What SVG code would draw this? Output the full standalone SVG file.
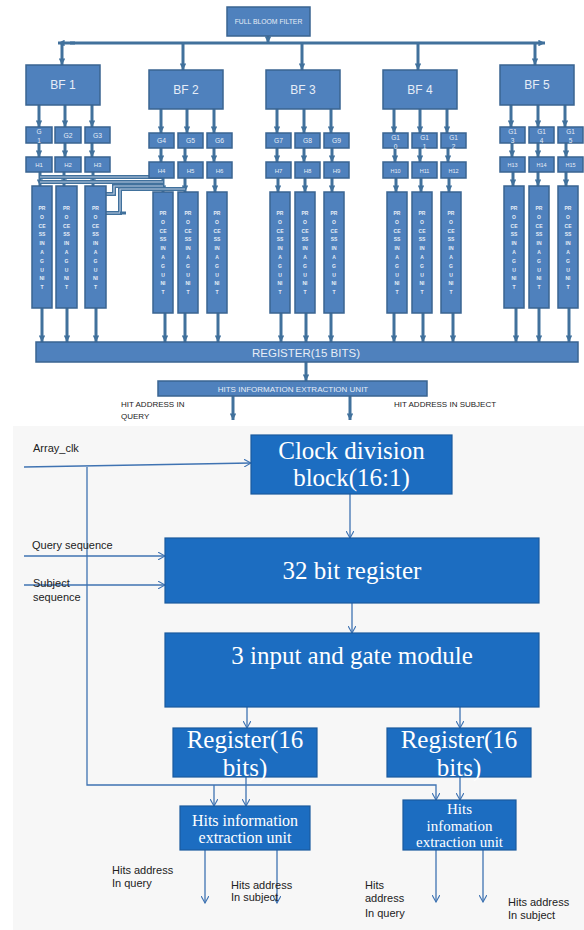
<svg xmlns="http://www.w3.org/2000/svg" width="584" height="930" viewBox="0 0 584 930">
<style>
.tb{fill:#4f81bd;stroke:#3a6491;stroke-width:1.5}
.tt{fill:#e6edf7;font-family:"Liberation Sans",Arial,sans-serif;text-anchor:middle}
.th{stroke:#41719c;stroke-width:3;fill:none}
.dbl{stroke:#41719c;stroke-width:4;fill:none}
.dbli{stroke:#b9cbe2;stroke-width:1.2;fill:none}
.pu{fill:#e6edf7;font-family:"Liberation Sans",Arial,sans-serif;font-size:5px;font-weight:bold;text-anchor:middle}
.bb{fill:#1c6dc1;stroke:#1a5a9e;stroke-width:1.2}
.bt{fill:#ffffff;font-family:"Liberation Serif","Times New Roman",serif;text-anchor:middle}
.bl{stroke:#3f73b2;stroke-width:1.3;fill:none}
.lab{fill:#222;font-family:"Liberation Sans",Arial,sans-serif;font-size:11px}
.lab8{fill:#222;font-family:"Liberation Sans",Arial,sans-serif;font-size:8px}
</style>
<defs>
<marker id="ah" viewBox="0 0 10 10" refX="10" refY="5" markerWidth="2.2" markerHeight="2.2" orient="auto"><path d="M0,0 L10,5 L0,10 z" fill="#41719c"/></marker>
<marker id="ao" viewBox="0 0 10 10" refX="9" refY="5" markerWidth="8" markerHeight="8" markerUnits="userSpaceOnUse" orient="auto"><path d="M0,0 L9,5 L0,10" fill="none" stroke="#3f73b2" stroke-width="1.4"/></marker>
</defs>
<rect x="13" y="426" width="571" height="504" fill="#f7f7f7"/>

<g id="connectors">
<!-- top bus -->
<line class="th" x1="268" y1="36" x2="268" y2="43" marker-end="url(#ah)"/>
<line class="th" x1="70" y1="43" x2="545" y2="43" marker-end="url(#ah)"/>
<line class="th" x1="75" y1="43" x2="58" y2="43" marker-end="url(#ah)"/>
<line class="th" x1="62" y1="43" x2="62" y2="65" marker-end="url(#ah)"/>
<line class="th" x1="183" y1="43" x2="183" y2="70" marker-end="url(#ah)"/>
<line class="th" x1="302" y1="43" x2="302" y2="70" marker-end="url(#ah)"/>
<line class="th" x1="418" y1="43" x2="418" y2="70" marker-end="url(#ah)"/>
<line class="th" x1="535" y1="43" x2="535" y2="65" marker-end="url(#ah)"/>
<!-- group1 -->
<line class="th" x1="39" y1="105" x2="39" y2="127" marker-end="url(#ah)"/>
<line class="th" x1="65" y1="105" x2="65" y2="127" marker-end="url(#ah)"/>
<line class="th" x1="92" y1="105" x2="92" y2="127" marker-end="url(#ah)"/>
<line class="th" x1="39" y1="143" x2="39" y2="157" marker-end="url(#ah)"/>
<line class="th" x1="65" y1="143" x2="65" y2="157" marker-end="url(#ah)"/>
<line class="th" x1="92" y1="143" x2="92" y2="157" marker-end="url(#ah)"/>
<line class="th" x1="40" y1="172" x2="40" y2="186" marker-end="url(#ah)"/>
<line class="th" x1="64" y1="172" x2="64" y2="186" marker-end="url(#ah)"/>
<line class="th" x1="93" y1="172" x2="93" y2="186" marker-end="url(#ah)"/>
<line class="th" x1="42" y1="308" x2="42" y2="342" marker-end="url(#ah)"/>
<line class="th" x1="67" y1="308" x2="67" y2="342" marker-end="url(#ah)"/>
<line class="th" x1="96" y1="308" x2="96" y2="342" marker-end="url(#ah)"/>
<!-- group2 -->
<line class="th" x1="161" y1="109" x2="161" y2="133" marker-end="url(#ah)"/>
<line class="th" x1="187" y1="109" x2="187" y2="133" marker-end="url(#ah)"/>
<line class="th" x1="214" y1="109" x2="214" y2="133" marker-end="url(#ah)"/>
<line class="th" x1="161" y1="148" x2="161" y2="162" marker-end="url(#ah)"/>
<line class="th" x1="185" y1="148" x2="185" y2="162" marker-end="url(#ah)"/>
<line class="th" x1="214" y1="148" x2="214" y2="162" marker-end="url(#ah)"/>
<line class="th" x1="163" y1="178" x2="163" y2="192" marker-end="url(#ah)"/>
<line class="th" x1="185" y1="178" x2="185" y2="192" marker-end="url(#ah)"/>
<line class="th" x1="215" y1="178" x2="215" y2="192" marker-end="url(#ah)"/>
<line class="th" x1="165" y1="313" x2="165" y2="342" marker-end="url(#ah)"/>
<line class="th" x1="185" y1="313" x2="185" y2="342" marker-end="url(#ah)"/>
<line class="th" x1="218" y1="313" x2="218" y2="342" marker-end="url(#ah)"/>
<!-- group3 -->
<line class="th" x1="277" y1="109" x2="277" y2="133" marker-end="url(#ah)"/>
<line class="th" x1="304" y1="109" x2="304" y2="133" marker-end="url(#ah)"/>
<line class="th" x1="331" y1="109" x2="331" y2="133" marker-end="url(#ah)"/>
<line class="th" x1="277" y1="148" x2="277" y2="162" marker-end="url(#ah)"/>
<line class="th" x1="304" y1="148" x2="304" y2="162" marker-end="url(#ah)"/>
<line class="th" x1="332" y1="148" x2="332" y2="162" marker-end="url(#ah)"/>
<line class="th" x1="278" y1="178" x2="278" y2="192" marker-end="url(#ah)"/>
<line class="th" x1="305" y1="178" x2="305" y2="192" marker-end="url(#ah)"/>
<line class="th" x1="332" y1="178" x2="332" y2="192" marker-end="url(#ah)"/>
<line class="th" x1="281" y1="313" x2="281" y2="342" marker-end="url(#ah)"/>
<line class="th" x1="306" y1="313" x2="306" y2="342" marker-end="url(#ah)"/>
<line class="th" x1="331" y1="313" x2="331" y2="342" marker-end="url(#ah)"/>
<!-- group4 -->
<line class="th" x1="394" y1="109" x2="394" y2="133" marker-end="url(#ah)"/>
<line class="th" x1="420" y1="109" x2="420" y2="133" marker-end="url(#ah)"/>
<line class="th" x1="447" y1="109" x2="447" y2="133" marker-end="url(#ah)"/>
<line class="th" x1="395" y1="148" x2="395" y2="162" marker-end="url(#ah)"/>
<line class="th" x1="420" y1="148" x2="420" y2="162" marker-end="url(#ah)"/>
<line class="th" x1="448" y1="148" x2="448" y2="162" marker-end="url(#ah)"/>
<line class="th" x1="396" y1="178" x2="396" y2="192" marker-end="url(#ah)"/>
<line class="th" x1="421" y1="178" x2="421" y2="192" marker-end="url(#ah)"/>
<line class="th" x1="449" y1="178" x2="449" y2="192" marker-end="url(#ah)"/>
<line class="th" x1="394" y1="313" x2="394" y2="342" marker-end="url(#ah)"/>
<line class="th" x1="423" y1="313" x2="423" y2="342" marker-end="url(#ah)"/>
<line class="th" x1="453" y1="313" x2="453" y2="342" marker-end="url(#ah)"/>
<!-- group5 -->
<line class="th" x1="511" y1="105" x2="511" y2="127" marker-end="url(#ah)"/>
<line class="th" x1="538" y1="105" x2="538" y2="127" marker-end="url(#ah)"/>
<line class="th" x1="565" y1="105" x2="565" y2="127" marker-end="url(#ah)"/>
<line class="th" x1="512" y1="143" x2="512" y2="157" marker-end="url(#ah)"/>
<line class="th" x1="538" y1="143" x2="538" y2="157" marker-end="url(#ah)"/>
<line class="th" x1="566" y1="143" x2="566" y2="157" marker-end="url(#ah)"/>
<line class="th" x1="513" y1="172" x2="513" y2="186" marker-end="url(#ah)"/>
<line class="th" x1="538" y1="172" x2="538" y2="186" marker-end="url(#ah)"/>
<line class="th" x1="566" y1="172" x2="566" y2="186" marker-end="url(#ah)"/>
<line class="th" x1="516" y1="308" x2="516" y2="342" marker-end="url(#ah)"/>
<line class="th" x1="539" y1="308" x2="539" y2="342" marker-end="url(#ah)"/>
<line class="th" x1="569" y1="308" x2="569" y2="342" marker-end="url(#ah)"/>
<!-- crossing wires -->
<path class="dbl" d="M40,177 H163"/><path class="dbli" d="M40,177 H163"/>
<path class="dbl" d="M40,182 H163"/><path class="dbli" d="M40,182 H163"/>
<path class="dbl" d="M163,186 H114 V194 H106"/><path class="dbli" d="M163,186 H114 V194 H106"/>
<path class="dbl" d="M185,189 H120 V213 H106"/><path class="dbli" d="M185,189 H120 V213 H106"/>
<line class="th" x1="120" y1="213" x2="126" y2="213"/>
<!-- register to hits -->
<line class="th" x1="306" y1="362" x2="306" y2="381" marker-end="url(#ah)"/>
<line class="th" x1="233" y1="396" x2="233" y2="420" marker-end="url(#ah)"/>
<line class="th" x1="350" y1="396" x2="350" y2="420" marker-end="url(#ah)"/>
<!-- lower diagram -->
<line class="bl" x1="24" y1="467" x2="251" y2="463" marker-end="url(#ao)"/>
<path class="bl" d="M87,467 V785 H436 V800" marker-end="url(#ao)"/>
<line class="bl" x1="214" y1="785" x2="214" y2="806" marker-end="url(#ao)"/>
<line class="bl" x1="24" y1="556" x2="165" y2="556" marker-end="url(#ao)"/>
<line class="bl" x1="24" y1="585" x2="165" y2="585" marker-end="url(#ao)"/>
<line class="bl" x1="350" y1="494" x2="350" y2="538" marker-end="url(#ao)"/>
<line class="bl" x1="352" y1="603" x2="352" y2="633" marker-end="url(#ao)"/>
<line class="bl" x1="247" y1="707" x2="247" y2="728" marker-end="url(#ao)"/>
<line class="bl" x1="460" y1="707" x2="460" y2="728" marker-end="url(#ao)"/>
<line class="bl" x1="246" y1="777" x2="246" y2="806" marker-end="url(#ao)"/>
<line class="bl" x1="460" y1="777" x2="460" y2="800" marker-end="url(#ao)"/>
<line class="bl" x1="205" y1="850" x2="205" y2="903" marker-end="url(#ao)"/>
<line class="bl" x1="277" y1="850" x2="277" y2="903" marker-end="url(#ao)"/>
<line class="bl" x1="436" y1="850" x2="436" y2="902" marker-end="url(#ao)"/>
<line class="bl" x1="483" y1="850" x2="483" y2="902" marker-end="url(#ao)"/>
</g>

<g id="full-bloom-filter"><rect class="tb" x="227" y="7" width="83" height="29"/><text class="tt" x="268.5" y="24" font-size="6.8">FULL BLOOM FILTER</text></g>

<g id="bf1"><rect class="tb" x="26" y="65" width="74" height="40"/><text class="tt" x="63" y="89" font-size="12">BF 1</text></g>
<g id="bf2"><rect class="tb" x="149" y="70" width="74" height="39"/><text class="tt" x="186" y="94" font-size="12">BF 2</text></g>
<g id="bf3"><rect class="tb" x="266" y="70" width="74" height="39"/><text class="tt" x="303" y="94" font-size="12">BF 3</text></g>
<g id="bf4"><rect class="tb" x="383" y="70" width="74" height="39"/><text class="tt" x="420" y="94" font-size="12">BF 4</text></g>
<g id="bf5"><rect class="tb" x="500" y="65" width="74" height="40"/><text class="tt" x="537" y="89" font-size="12">BF 5</text></g>

<g id="g1"><rect class="tb" x="26" y="127" width="26" height="16"/><text class="tt" font-size="6.5"><tspan x="39" y="134">G</tspan><tspan x="39" y="143">1</tspan></text></g>
<g id="g2"><rect class="tb" x="55" y="127" width="26" height="16"/><text class="tt" x="68" y="138" font-size="6.8">G2</text></g>
<g id="g3"><rect class="tb" x="85" y="127" width="25" height="16"/><text class="tt" x="97.5" y="138" font-size="6.8">G3</text></g>
<g id="g4"><rect class="tb" x="149" y="133" width="25" height="15"/><text class="tt" x="161.5" y="143" font-size="6.8">G4</text></g>
<g id="g5"><rect class="tb" x="178" y="133" width="25" height="15"/><text class="tt" x="190.5" y="143" font-size="6.8">G5</text></g>
<g id="g6"><rect class="tb" x="207" y="133" width="25" height="15"/><text class="tt" x="219.5" y="143" font-size="6.8">G6</text></g>
<g id="g7"><rect class="tb" x="266" y="133" width="25" height="15"/><text class="tt" x="278.5" y="143" font-size="6.8">G7</text></g>
<g id="g8"><rect class="tb" x="295" y="133" width="25" height="15"/><text class="tt" x="307.5" y="143" font-size="6.8">G8</text></g>
<g id="g9"><rect class="tb" x="324" y="133" width="25" height="15"/><text class="tt" x="336.5" y="143" font-size="6.8">G9</text></g>
<g id="g10"><rect class="tb" x="383" y="133" width="25" height="15"/><text class="tt" font-size="6.5"><tspan x="395.5" y="140">G1</tspan><tspan x="395.5" y="148.5">0</tspan></text></g>
<g id="g11"><rect class="tb" x="412" y="133" width="25" height="15"/><text class="tt" font-size="6.5"><tspan x="424.5" y="140">G1</tspan><tspan x="424.5" y="148.5">1</tspan></text></g>
<g id="g12"><rect class="tb" x="441" y="133" width="25" height="15"/><text class="tt" font-size="6.5"><tspan x="453.5" y="140">G1</tspan><tspan x="453.5" y="148.5">2</tspan></text></g>
<g id="g13"><rect class="tb" x="500" y="127" width="25" height="16"/><text class="tt" font-size="6.5"><tspan x="512.5" y="134">G1</tspan><tspan x="512.5" y="143">3</tspan></text></g>
<g id="g14"><rect class="tb" x="529" y="127" width="25" height="16"/><text class="tt" font-size="6.5"><tspan x="541.5" y="134">G1</tspan><tspan x="541.5" y="143">4</tspan></text></g>
<g id="g15"><rect class="tb" x="558" y="127" width="25" height="16"/><text class="tt" font-size="6.5"><tspan x="570.5" y="134">G1</tspan><tspan x="570.5" y="143">5</tspan></text></g>

<g id="h1"><rect class="tb" x="26" y="157" width="26" height="15"/><text class="tt" x="39" y="167" font-size="6">H1</text></g>
<g id="h2"><rect class="tb" x="55" y="157" width="26" height="15"/><text class="tt" x="68" y="167" font-size="6">H2</text></g>
<g id="h3"><rect class="tb" x="85" y="157" width="25" height="15"/><text class="tt" x="97.5" y="167" font-size="6">H3</text></g>
<g id="h4"><rect class="tb" x="149" y="162" width="25" height="16"/><text class="tt" x="161.5" y="172.5" font-size="6">H4</text></g>
<g id="h5"><rect class="tb" x="178" y="162" width="25" height="16"/><text class="tt" x="190.5" y="172.5" font-size="6">H5</text></g>
<g id="h6"><rect class="tb" x="207" y="162" width="25" height="16"/><text class="tt" x="219.5" y="172.5" font-size="6">H6</text></g>
<g id="h7"><rect class="tb" x="266" y="162" width="25" height="16"/><text class="tt" x="278.5" y="172.5" font-size="6">H7</text></g>
<g id="h8"><rect class="tb" x="295" y="162" width="25" height="16"/><text class="tt" x="307.5" y="172.5" font-size="6">H8</text></g>
<g id="h9"><rect class="tb" x="324" y="162" width="25" height="16"/><text class="tt" x="336.5" y="172.5" font-size="6">H9</text></g>
<g id="h10"><rect class="tb" x="383" y="162" width="25" height="16"/><text class="tt" x="395.5" y="172.5" font-size="5.5">H10</text></g>
<g id="h11"><rect class="tb" x="412" y="162" width="25" height="16"/><text class="tt" x="424.5" y="172.5" font-size="5.5">H11</text></g>
<g id="h12"><rect class="tb" x="441" y="162" width="25" height="16"/><text class="tt" x="453.5" y="172.5" font-size="5.5">H12</text></g>
<g id="h13"><rect class="tb" x="500" y="157" width="25" height="15"/><text class="tt" x="512.5" y="167" font-size="5.5">H13</text></g>
<g id="h14"><rect class="tb" x="529" y="157" width="25" height="15"/><text class="tt" x="541.5" y="167" font-size="5.5">H14</text></g>
<g id="h15"><rect class="tb" x="558" y="157" width="25" height="15"/><text class="tt" x="570.5" y="167" font-size="5.5">H15</text></g>

<g id="pu1"><rect class="tb" x="32" y="186" width="20" height="122"/><text class="pu"><tspan x="42" y="210">PR</tspan><tspan x="42" dy="8.8">O</tspan><tspan x="42" dy="8.8">CE</tspan><tspan x="42" dy="8.8">SS</tspan><tspan x="42" dy="8.8">IN</tspan><tspan x="42" dy="8.8">A</tspan><tspan x="42" dy="8.8">G</tspan><tspan x="42" dy="8.8">U</tspan><tspan x="42" dy="8.8">NI</tspan><tspan x="42" dy="8.8">T</tspan></text></g>
<g id="pu2"><rect class="tb" x="56" y="186" width="21" height="122"/><text class="pu"><tspan x="66.5" y="210">PR</tspan><tspan x="66.5" dy="8.8">O</tspan><tspan x="66.5" dy="8.8">CE</tspan><tspan x="66.5" dy="8.8">SS</tspan><tspan x="66.5" dy="8.8">IN</tspan><tspan x="66.5" dy="8.8">A</tspan><tspan x="66.5" dy="8.8">G</tspan><tspan x="66.5" dy="8.8">U</tspan><tspan x="66.5" dy="8.8">NI</tspan><tspan x="66.5" dy="8.8">T</tspan></text></g>
<g id="pu3"><rect class="tb" x="85" y="186" width="21" height="122"/><text class="pu"><tspan x="95.5" y="210">PR</tspan><tspan x="95.5" dy="8.8">O</tspan><tspan x="95.5" dy="8.8">CE</tspan><tspan x="95.5" dy="8.8">SS</tspan><tspan x="95.5" dy="8.8">IN</tspan><tspan x="95.5" dy="8.8">A</tspan><tspan x="95.5" dy="8.8">G</tspan><tspan x="95.5" dy="8.8">U</tspan><tspan x="95.5" dy="8.8">NI</tspan><tspan x="95.5" dy="8.8">T</tspan></text></g>
<g id="pu4"><rect class="tb" x="153" y="192" width="20" height="121"/><text class="pu"><tspan x="163" y="215">PR</tspan><tspan x="163" dy="8.8">O</tspan><tspan x="163" dy="8.8">CE</tspan><tspan x="163" dy="8.8">SS</tspan><tspan x="163" dy="8.8">IN</tspan><tspan x="163" dy="8.8">A</tspan><tspan x="163" dy="8.8">G</tspan><tspan x="163" dy="8.8">U</tspan><tspan x="163" dy="8.8">NI</tspan><tspan x="163" dy="8.8">T</tspan></text></g>
<g id="pu5"><rect class="tb" x="178" y="192" width="20" height="121"/><text class="pu"><tspan x="188" y="215">PR</tspan><tspan x="188" dy="8.8">O</tspan><tspan x="188" dy="8.8">CE</tspan><tspan x="188" dy="8.8">SS</tspan><tspan x="188" dy="8.8">IN</tspan><tspan x="188" dy="8.8">A</tspan><tspan x="188" dy="8.8">G</tspan><tspan x="188" dy="8.8">U</tspan><tspan x="188" dy="8.8">NI</tspan><tspan x="188" dy="8.8">T</tspan></text></g>
<g id="pu6"><rect class="tb" x="207" y="192" width="20" height="121"/><text class="pu"><tspan x="217" y="215">PR</tspan><tspan x="217" dy="8.8">O</tspan><tspan x="217" dy="8.8">CE</tspan><tspan x="217" dy="8.8">SS</tspan><tspan x="217" dy="8.8">IN</tspan><tspan x="217" dy="8.8">A</tspan><tspan x="217" dy="8.8">G</tspan><tspan x="217" dy="8.8">U</tspan><tspan x="217" dy="8.8">NI</tspan><tspan x="217" dy="8.8">T</tspan></text></g>
<g id="pu7"><rect class="tb" x="270" y="192" width="20" height="121"/><text class="pu"><tspan x="280" y="215">PR</tspan><tspan x="280" dy="8.8">O</tspan><tspan x="280" dy="8.8">CE</tspan><tspan x="280" dy="8.8">SS</tspan><tspan x="280" dy="8.8">IN</tspan><tspan x="280" dy="8.8">A</tspan><tspan x="280" dy="8.8">G</tspan><tspan x="280" dy="8.8">U</tspan><tspan x="280" dy="8.8">NI</tspan><tspan x="280" dy="8.8">T</tspan></text></g>
<g id="pu8"><rect class="tb" x="295" y="192" width="20" height="121"/><text class="pu"><tspan x="305" y="215">PR</tspan><tspan x="305" dy="8.8">O</tspan><tspan x="305" dy="8.8">CE</tspan><tspan x="305" dy="8.8">SS</tspan><tspan x="305" dy="8.8">IN</tspan><tspan x="305" dy="8.8">A</tspan><tspan x="305" dy="8.8">G</tspan><tspan x="305" dy="8.8">U</tspan><tspan x="305" dy="8.8">NI</tspan><tspan x="305" dy="8.8">T</tspan></text></g>
<g id="pu9"><rect class="tb" x="324" y="192" width="20" height="121"/><text class="pu"><tspan x="334" y="215">PR</tspan><tspan x="334" dy="8.8">O</tspan><tspan x="334" dy="8.8">CE</tspan><tspan x="334" dy="8.8">SS</tspan><tspan x="334" dy="8.8">IN</tspan><tspan x="334" dy="8.8">A</tspan><tspan x="334" dy="8.8">G</tspan><tspan x="334" dy="8.8">U</tspan><tspan x="334" dy="8.8">NI</tspan><tspan x="334" dy="8.8">T</tspan></text></g>
<g id="pu10"><rect class="tb" x="387" y="192" width="20" height="121"/><text class="pu"><tspan x="397" y="215">PR</tspan><tspan x="397" dy="8.8">O</tspan><tspan x="397" dy="8.8">CE</tspan><tspan x="397" dy="8.8">SS</tspan><tspan x="397" dy="8.8">IN</tspan><tspan x="397" dy="8.8">A</tspan><tspan x="397" dy="8.8">G</tspan><tspan x="397" dy="8.8">U</tspan><tspan x="397" dy="8.8">NI</tspan><tspan x="397" dy="8.8">T</tspan></text></g>
<g id="pu11"><rect class="tb" x="412" y="192" width="20" height="121"/><text class="pu"><tspan x="422" y="215">PR</tspan><tspan x="422" dy="8.8">O</tspan><tspan x="422" dy="8.8">CE</tspan><tspan x="422" dy="8.8">SS</tspan><tspan x="422" dy="8.8">IN</tspan><tspan x="422" dy="8.8">A</tspan><tspan x="422" dy="8.8">G</tspan><tspan x="422" dy="8.8">U</tspan><tspan x="422" dy="8.8">NI</tspan><tspan x="422" dy="8.8">T</tspan></text></g>
<g id="pu12"><rect class="tb" x="441" y="192" width="20" height="121"/><text class="pu"><tspan x="451" y="215">PR</tspan><tspan x="451" dy="8.8">O</tspan><tspan x="451" dy="8.8">CE</tspan><tspan x="451" dy="8.8">SS</tspan><tspan x="451" dy="8.8">IN</tspan><tspan x="451" dy="8.8">A</tspan><tspan x="451" dy="8.8">G</tspan><tspan x="451" dy="8.8">U</tspan><tspan x="451" dy="8.8">NI</tspan><tspan x="451" dy="8.8">T</tspan></text></g>
<g id="pu13"><rect class="tb" x="504" y="186" width="20" height="122"/><text class="pu"><tspan x="514" y="210">PR</tspan><tspan x="514" dy="8.8">O</tspan><tspan x="514" dy="8.8">CE</tspan><tspan x="514" dy="8.8">SS</tspan><tspan x="514" dy="8.8">IN</tspan><tspan x="514" dy="8.8">A</tspan><tspan x="514" dy="8.8">G</tspan><tspan x="514" dy="8.8">U</tspan><tspan x="514" dy="8.8">NI</tspan><tspan x="514" dy="8.8">T</tspan></text></g>
<g id="pu14"><rect class="tb" x="529" y="186" width="20" height="122"/><text class="pu"><tspan x="539" y="210">PR</tspan><tspan x="539" dy="8.8">O</tspan><tspan x="539" dy="8.8">CE</tspan><tspan x="539" dy="8.8">SS</tspan><tspan x="539" dy="8.8">IN</tspan><tspan x="539" dy="8.8">A</tspan><tspan x="539" dy="8.8">G</tspan><tspan x="539" dy="8.8">U</tspan><tspan x="539" dy="8.8">NI</tspan><tspan x="539" dy="8.8">T</tspan></text></g>
<g id="pu15"><rect class="tb" x="558" y="186" width="20" height="122"/><text class="pu"><tspan x="568" y="210">PR</tspan><tspan x="568" dy="8.8">O</tspan><tspan x="568" dy="8.8">CE</tspan><tspan x="568" dy="8.8">SS</tspan><tspan x="568" dy="8.8">IN</tspan><tspan x="568" dy="8.8">A</tspan><tspan x="568" dy="8.8">G</tspan><tspan x="568" dy="8.8">U</tspan><tspan x="568" dy="8.8">NI</tspan><tspan x="568" dy="8.8">T</tspan></text></g>

<g id="register15"><rect class="tb" x="36" y="342" width="542" height="20"/><text class="tt" x="306" y="356.5" font-size="11.5">REGISTER(15 BITS)</text></g>
<g id="hits-top"><rect class="tb" x="158" y="381" width="269" height="15"/><text class="tt" x="293" y="391.5" font-size="8">HITS INFORMATION EXTRACTION  UNIT</text></g>
<g id="hit-labels"><text class="lab8"><tspan x="121" y="407">HIT ADDRESS IN</tspan><tspan x="121" y="419">QUERY</tspan></text><text class="lab8" x="394" y="407">HIT ADDRESS IN SUBJECT</text></g>

<g id="clock-div"><rect class="bb" x="251" y="435" width="201" height="59"/><text class="bt" font-size="25"><tspan x="351.5" y="459">Clock division</tspan><tspan x="351.5" y="486">block(16:1)</tspan></text></g>
<g id="reg32"><rect class="bb" x="165" y="538" width="374" height="65"/><text class="bt" x="352" y="579" font-size="25">32 bit register</text></g>
<g id="and-gate"><rect class="bb" x="165" y="633" width="374" height="74"/><text class="bt" x="352" y="664" font-size="25">3 input and gate module</text></g>
<g id="reg16a"><rect class="bb" x="173" y="728" width="144" height="49"/><text class="bt" font-size="25"><tspan x="245" y="748">Register(16</tspan><tspan x="245" y="776">bits)</tspan></text></g>
<g id="reg16b"><rect class="bb" x="387" y="728" width="144" height="49"/><text class="bt" font-size="25"><tspan x="459" y="748">Register(16</tspan><tspan x="459" y="776">bits)</tspan></text></g>
<g id="hie1"><rect class="bb" x="180" y="806" width="130" height="44"/><text class="bt" font-size="16"><tspan x="245" y="826">Hits information</tspan><tspan x="245" y="843">extraction unit</tspan></text></g>
<g id="hie2"><rect class="bb" x="403" y="800" width="113" height="50"/><text class="bt" font-size="15"><tspan x="459.5" y="814">Hits</tspan><tspan x="459.5" y="831">infomation</tspan><tspan x="459.5" y="847">extraction unit</tspan></text></g>

<g id="labels">
<text class="lab" x="33" y="452">Array_clk</text>
<text class="lab" x="32" y="549">Query sequence</text>
<text class="lab"><tspan x="33" y="587">Subject</tspan><tspan x="33" y="601">sequence</tspan></text>
<text class="lab"><tspan x="112" y="874">Hits address</tspan><tspan x="112" y="887">In query</tspan></text>
<text class="lab"><tspan x="231" y="889">Hits address</tspan><tspan x="231" y="901">In subject</tspan></text>
<text class="lab"><tspan x="365" y="889">Hits</tspan><tspan x="365" y="902">address</tspan><tspan x="365" y="917">In query</tspan></text>
<text class="lab"><tspan x="508" y="906">Hits address</tspan><tspan x="508" y="919">In subject</tspan></text>
</g>
</svg>
